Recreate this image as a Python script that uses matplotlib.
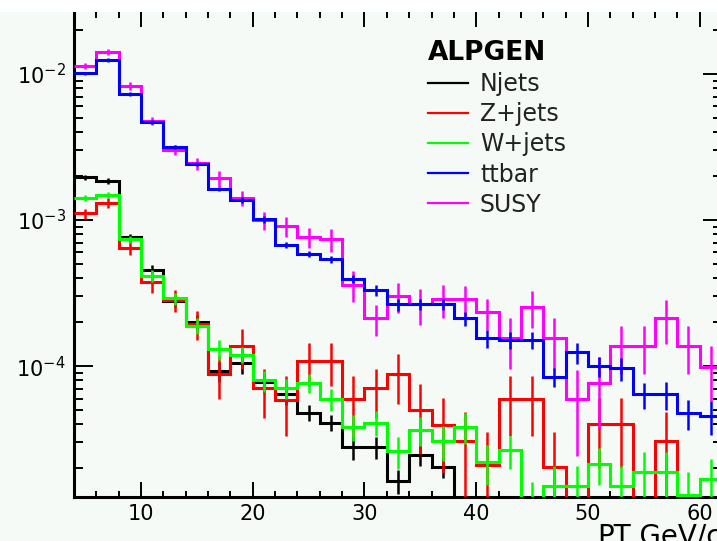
import matplotlib.pyplot as plt
import numpy as np
from matplotlib.lines import Line2D
from matplotlib.patches import Rectangle
from matplotlib.ticker import MultipleLocator, NullFormatter

# pT bins, 2 GeV wide
bin_edges = [4, 6, 8, 10, 12, 14, 16, 18, 20, 22, 24, 26, 28, 30, 32,
             34, 36, 38, 40, 42, 44, 46, 48, 50, 52, 54, 56, 58, 60, 62]

njets = [1.96e-3, 1.85e-3, 7.6e-4, 4.55e-4, 2.79e-4, 2.01e-4, 9.2e-5, 1.05e-4,
         7.74e-5, 6.4e-5, 4.8e-5, 4.11e-5, 2.8e-5, 2.8e-5, 1.64e-5, 2.46e-5,
         2.04e-5, 0, 0, 0, 0, 0, 0, 0, 0, 0, 0, 0, 0]
njets_err = [9e-5, 9e-5, 4.8e-5, 3.6e-5, 2.6e-5, 2.2e-5, 1.4e-5, 1.7e-5,
             1.2e-5, 1e-5, 6e-6, 5.2e-6, 5.3e-6, 4.9e-6, 3.1e-6, 3.9e-6,
             3.2e-6, 0, 0, 0, 0, 0, 0, 0, 0, 0, 0, 0, 0]

zjets = [1.11e-3, 1.31e-3, 6.46e-4, 3.78e-4, 2.82e-4, 1.94e-4, 8.9e-5, 1.38e-4,
         7.03e-5, 5.9e-5, 1.09e-4, 1.09e-4, 5.94e-5, 7.03e-5, 8.8e-5, 5.0e-5,
         3.95e-5, 3.06e-5, 2.1e-5, 5.94e-5, 5.94e-5, 2.04e-5, 0, 4.01e-5,
         4.01e-5, 0, 3.07e-5, 0, 0]
zjets_err = [8.8e-5, 1.03e-4, 7.1e-5, 6e-5, 4.9e-5, 4.3e-5, 2.9e-5, 4.2e-5,
             2.6e-5, 2.6e-5, 3.6e-5, 3.6e-5, 2.6e-5, 2.6e-5, 3.3e-5, 2.5e-5,
             2.1e-5, 1.8e-5, 1.45e-5, 2.6e-5, 2.6e-5, 1.5e-5, 0, 2e-5,
             2e-5, 0, 1.75e-5, 0, 0]

wjets = [1.42e-3, 1.48e-3, 7.38e-4, 4.13e-4, 2.91e-4, 1.89e-4, 1.30e-4, 1.20e-4,
         8.0e-5, 7.1e-5, 7.7e-5, 5.94e-5, 3.85e-5, 4.11e-5, 2.63e-5, 3.65e-5,
         3.07e-5, 3.85e-5, 2.2e-5, 2.66e-5, 0, 1.51e-5, 1.51e-5, 2.13e-5,
         1.51e-5, 1.89e-5, 1.89e-5, 1.31e-5, 1.7e-5]
wjets_err = [6.7e-5, 7e-5, 4.6e-5, 3.9e-5, 2.8e-5, 2.4e-5, 2.0e-5, 1.5e-5,
             1.3e-5, 1.1e-5, 1.2e-5, 1.0e-5, 8e-6, 7.8e-6, 6.6e-6, 8e-6,
             8.2e-6, 9e-6, 6.7e-6, 6.7e-6, 1.6e-5, 5.7e-6, 5.7e-6, 6e-6,
             5.7e-6, 6.8e-6, 6.8e-6, 5.8e-6, 6e-6]

ttbar = [1.01e-2, 1.25e-2, 7.3e-3, 4.7e-3, 3.18e-3, 2.42e-3, 1.63e-3, 1.37e-3,
         1.01e-3, 6.75e-4, 5.9e-4, 5.4e-4, 3.95e-4, 3.3e-4, 2.65e-4, 2.65e-4,
         2.65e-4, 2.12e-4, 1.55e-4, 1.51e-4, 1.51e-4, 8.45e-5, 1.24e-4, 1.0e-4,
         9.65e-5, 6.4e-5, 6.4e-5, 4.74e-5, 4.57e-5]
ttbar_err = [3e-4, 4e-4, 2.3e-4, 1.5e-4, 1e-4, 8e-5, 6e-5, 6e-5,
             5e-5, 3.2e-5, 2.8e-5, 3e-5, 2.5e-5, 2.9e-5, 2.5e-5, 2.1e-5,
             2.1e-5, 2.3e-5, 2.2e-5, 1.9e-5, 1.9e-5, 1.3e-5, 2e-5, 1.6e-5,
             1.7e-5, 1.3e-5, 1.4e-5, 1.1e-5, 1.2e-5]

susy = [1.135e-2, 1.41e-2, 8.28e-3, 4.75e-3, 3.01e-3, 2.45e-3, 1.93e-3, 1.41e-3,
        1.0e-3, 9.1e-4, 7.6e-4, 7.38e-4, 3.62e-4, 2.12e-4, 3.01e-4, 2.65e-4,
        2.88e-4, 2.88e-4, 2.33e-4, 1.55e-4, 2.55e-4, 1.55e-4, 5.94e-5, 7.69e-5,
        1.38e-4, 1.38e-4, 2.12e-4, 1.38e-4, 9.8e-5]
susy_err = [5.4e-4, 6.7e-4, 5.2e-4, 3e-4, 2.4e-4, 2.3e-4, 2.4e-4, 1.6e-4,
            1.4e-4, 1.45e-4, 1.2e-4, 1.3e-4, 8.5e-5, 5e-5, 7e-5, 7.5e-5,
            7.3e-5, 6.8e-5, 5.5e-5, 5.9e-5, 7.2e-5, 5.9e-5, 3.5e-5, 3.9e-5,
            5e-5, 5e-5, 7e-5, 5e-5, 4e-5]

labels = ['Njets', 'Z+jets', 'W+jets', 'ttbar', 'SUSY']
colors = ['#000000', '#ff0000', '#00ff00', '#0000ff', '#ff00ff']
values = [njets, zjets, wjets, ttbar, susy]
errors = [njets_err, zjets_err, wjets_err, ttbar_err, susy_err]
zorders = [2, 3, 4, 6, 5]  # blue drawn over magenta

bg = '#f5faf6'

fig = plt.figure(figsize=(7.17, 5.41), dpi=100, facecolor=bg)
ax = fig.add_axes([74 / 717, 44 / 541, 648 / 717, 485 / 541])
ax.set_facecolor(bg)
ax.set_yscale('log')

edges = np.array(bin_edges, dtype=float)
centers = (edges[:-1] + edges[1:]) / 2
for vals, errs, col, z in zip(values, errors, colors, zorders):
    v = np.array(vals, dtype=float)
    e = np.array(errs, dtype=float)
    ax.stairs(np.where(v > 0, v, 1e-9), edges, baseline=None,
              color=col, lw=2.2, zorder=z)
    m = e > 0
    ax.vlines(centers[m], np.maximum(v[m] - e[m], 1e-9), v[m] + e[m],
              colors=col, lw=1.8, zorder=z)

ax.set_xlim(4, 62)
ax.set_ylim(1.27e-5, 2.66e-2)

ax.xaxis.set_major_locator(MultipleLocator(10))
ax.xaxis.set_minor_locator(MultipleLocator(2))
ax.yaxis.set_minor_formatter(NullFormatter())
ax.tick_params(which='both', direction='in', top=True, right=True,
               labelsize=15, width=1.4, color='black')
ax.tick_params(axis='x', which='major', length=10.8, pad=5)
ax.tick_params(axis='x', which='minor', length=4.3)
ax.tick_params(axis='y', which='major', length=13.7, pad=6)
ax.tick_params(axis='y', which='minor', length=6.5)
ax.spines['top'].set_visible(False)
for s in ['left', 'bottom', 'right']:
    ax.spines[s].set_linewidth(2.2)

# axis title at the bottom-right corner; the original is cropped through it
ax.set_xlabel('PT,GeV/c', fontsize=20, loc='right')
ax.xaxis.set_label_coords(1.0, -0.054)

handles = [Line2D([], [], color=c, lw=1.6) for c in colors]
leg = ax.legend(handles, labels, title='ALPGEN', loc='upper left',
                bbox_to_anchor=(428 / 717, 1 - 40 / 541),
                bbox_transform=fig.transFigure,
                frameon=False, fontsize=17, alignment='left',
                title_fontproperties={'weight': 'bold', 'size': 19},
                handlelength=1.7, handletextpad=0.5, labelspacing=0.26,
                borderpad=0, borderaxespad=0)
for t in leg.get_texts():
    t.set_color('#222222')

# white strip above the frame, as in the cropped original
fig.add_artist(Rectangle((0, 1 - 12 / 541), 1, 12 / 541, transform=fig.transFigure,
                         facecolor='white', edgecolor='none', zorder=10))

fig.savefig('out.png', dpi=100, facecolor=bg)
